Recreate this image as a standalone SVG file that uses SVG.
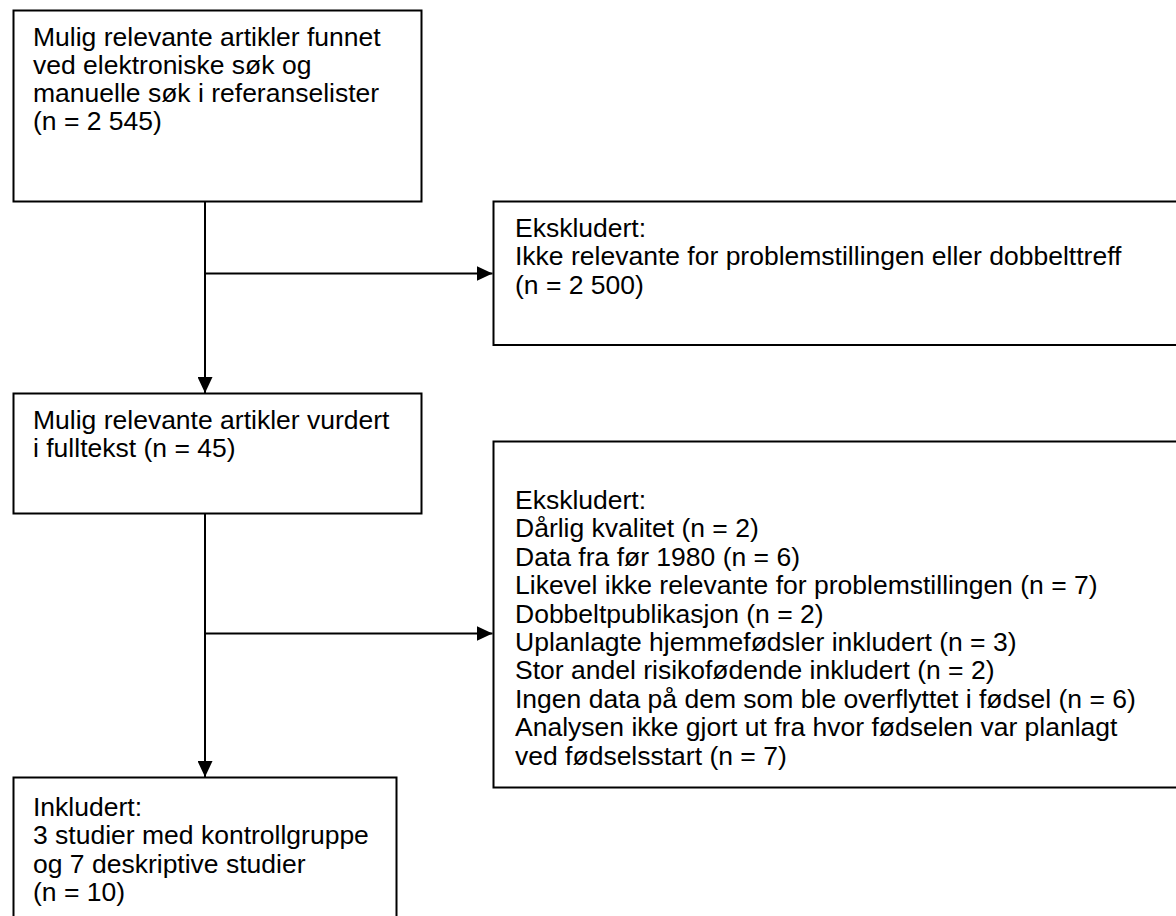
<svg xmlns="http://www.w3.org/2000/svg" width="1176" height="916" viewBox="0 0 1176 916">
<style>
.box{fill:#fff;stroke:#000;stroke-width:2}
.t{font-family:"Liberation Sans",Arial,sans-serif;font-size:26.5px;fill:#000}
.c{fill:none;stroke:#000;stroke-width:2}
</style>
<defs>
<marker id="ah" markerUnits="userSpaceOnUse" markerWidth="16" markerHeight="15" refX="16" refY="7.5" orient="auto">
<path d="M0,0 L16,7.5 L0,15 z" fill="#000"/>
</marker>
</defs>
<rect width="1176" height="916" fill="#fff"/>
<g id="connectors">
<line class="c" x1="205" y1="202" x2="205" y2="393" marker-end="url(#ah)"/>
<line class="c" x1="205" y1="273.5" x2="492.5" y2="273.5" marker-end="url(#ah)"/>
<line class="c" x1="205" y1="513" x2="205" y2="777" marker-end="url(#ah)"/>
<line class="c" x1="205" y1="633.5" x2="492.5" y2="633.5" marker-end="url(#ah)"/>
</g>
<g id="n1">
<rect class="box" x="13.5" y="10.5" width="408" height="191"/>
<text class="t" x="33" y="45.5">Mulig relevante artikler funnet</text>
<text class="t" x="33" y="73.8">ved elektroniske søk og</text>
<text class="t" x="33" y="102.1">manuelle søk i referanselister</text>
<text class="t" x="33" y="130.4">(n = 2 545)</text>
</g>
<g id="n2">
<rect class="box" x="493.5" y="201.5" width="700" height="143.5"/>
<text class="t" x="515" y="237">Ekskludert:</text>
<text class="t" x="515" y="265.3">Ikke relevante for problemstillingen eller dobbelttreff</text>
<text class="t" x="515" y="293.6">(n = 2 500)</text>
</g>
<g id="n3">
<rect class="box" x="13.5" y="393.5" width="408" height="120"/>
<text class="t" x="33" y="428.5">Mulig relevante artikler vurdert</text>
<text class="t" x="33" y="456.8">i fulltekst (n = 45)</text>
</g>
<g id="n4">
<rect class="box" x="493.5" y="441.5" width="700" height="346"/>
<text class="t" x="515" y="509">Ekskludert:</text>
<text class="t" x="515" y="537.4">Dårlig kvalitet (n = 2)</text>
<text class="t" x="515" y="565.8">Data fra før 1980 (n = 6)</text>
<text class="t" x="515" y="594.2">Likevel ikke relevante for problemstillingen (n = 7)</text>
<text class="t" x="515" y="622.6">Dobbeltpublikasjon (n = 2)</text>
<text class="t" x="515" y="651">Uplanlagte hjemmefødsler inkludert (n = 3)</text>
<text class="t" x="515" y="679.4">Stor andel risikofødende inkludert (n = 2)</text>
<text class="t" x="515" y="707.8">Ingen data på dem som ble overflyttet i fødsel (n = 6)</text>
<text class="t" x="515" y="736.2">Analysen ikke gjort ut fra hvor fødselen var planlagt</text>
<text class="t" x="515" y="764.6">ved fødselsstart (n = 7)</text>
</g>
<g id="n5">
<rect class="box" x="13.5" y="777.5" width="383" height="160"/>
<text class="t" x="33" y="816">Inkludert:</text>
<text class="t" x="33" y="844.3">3 studier med kontrollgruppe</text>
<text class="t" x="33" y="872.6">og 7 deskriptive studier</text>
<text class="t" x="33" y="900.9">(n = 10)</text>
</g>
</svg>
